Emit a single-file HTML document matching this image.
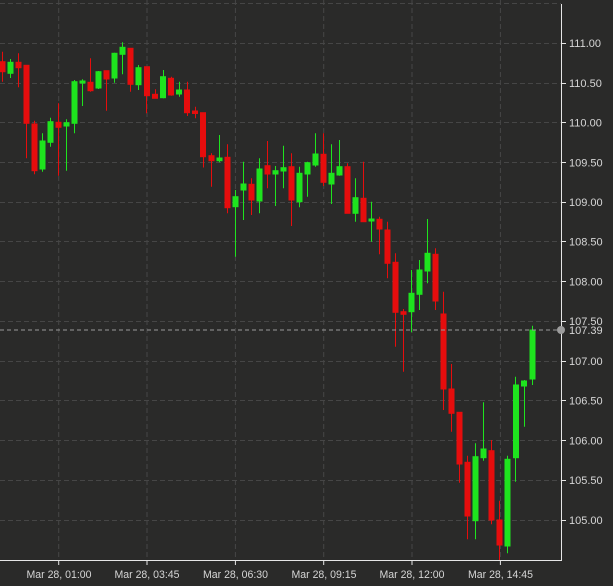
<!DOCTYPE html>
<html><head><meta charset="utf-8"><style>
html,body{margin:0;padding:0;background:#2a2a29;}
svg{display:block;}
text{font-family:"Liberation Sans",sans-serif;fill:#d6d6d6;font-size:11px;}
.g{fill:#1ee41e;stroke:#1ee41e;}
.r{fill:#e60d0d;stroke:#e60d0d;}
</style></head><body>
<svg width="613" height="586" viewBox="0 0 613 586" xmlns="http://www.w3.org/2000/svg">
<rect x="0" y="0" width="613" height="586" fill="#2a2a29"/>
<g stroke="#464646" stroke-width="1" stroke-dasharray="5,3" fill="none">
<line x1="0" y1="3.5" x2="561" y2="3.5"/>
<line x1="0" y1="43.5" x2="561" y2="43.5"/>
<line x1="0" y1="83.5" x2="561" y2="83.5"/>
<line x1="0" y1="122.5" x2="561" y2="122.5"/>
<line x1="0" y1="162.5" x2="561" y2="162.5"/>
<line x1="0" y1="202.5" x2="561" y2="202.5"/>
<line x1="0" y1="241.5" x2="561" y2="241.5"/>
<line x1="0" y1="281.5" x2="561" y2="281.5"/>
<line x1="0" y1="321.5" x2="561" y2="321.5"/>
<line x1="0" y1="361.5" x2="561" y2="361.5"/>
<line x1="0" y1="400.5" x2="561" y2="400.5"/>
<line x1="0" y1="440.5" x2="561" y2="440.5"/>
<line x1="0" y1="480.5" x2="561" y2="480.5"/>
<line x1="0" y1="520.5" x2="561" y2="520.5"/>
<line x1="58.7" y1="0" x2="58.7" y2="560"/>
<line x1="147" y1="0" x2="147" y2="560"/>
<line x1="235.4" y1="0" x2="235.4" y2="560"/>
<line x1="323.7" y1="0" x2="323.7" y2="560"/>
<line x1="412" y1="0" x2="412" y2="560"/>
<line x1="500.4" y1="0" x2="500.4" y2="560"/>
</g>
<g stroke-width="1">
<!-- candles: wick line + body rect -->
<line class="r" x1="2.5" y1="51.7" x2="2.5" y2="81.7"/><rect class="r" stroke="none" x="0" y="61.7" width="5" height="10"/>
<line class="g" x1="10.5" y1="59" x2="10.5" y2="78"/><rect class="g" stroke="none" x="8" y="62.3" width="5" height="11"/>
<line class="r" x1="18.5" y1="53.3" x2="18.5" y2="87.3"/><rect class="r" stroke="none" x="16" y="62.3" width="5" height="5.4"/>
<line class="r" x1="26.5" y1="65.3" x2="26.5" y2="158.3"/><rect class="r" stroke="none" x="24" y="65.3" width="5" height="58"/>
<line class="r" x1="34.5" y1="120.7" x2="34.5" y2="174.3"/><rect class="r" stroke="none" x="32" y="124" width="5" height="46.7"/>
<line class="g" x1="42.5" y1="133.3" x2="42.5" y2="171.7"/><rect class="g" stroke="none" x="40" y="141" width="5" height="28"/>
<line class="g" x1="50.5" y1="117.7" x2="50.5" y2="146.7"/><rect class="g" stroke="none" x="48" y="121.7" width="5" height="20.6"/>
<line class="r" x1="58.5" y1="103.3" x2="58.5" y2="175.7"/><rect class="r" stroke="none" x="56" y="122.3" width="5" height="5"/>
<line class="g" x1="66.5" y1="119.3" x2="66.5" y2="170.7"/><rect class="g" stroke="none" x="64" y="122.7" width="5" height="3.3"/>
<line class="g" x1="74.5" y1="80" x2="74.5" y2="133.3"/><rect class="g" stroke="none" x="72" y="81.7" width="5" height="41.6"/>
<line class="g" x1="82.5" y1="79.3" x2="82.5" y2="106"/><rect class="g" stroke="none" x="80" y="81" width="5" height="2"/>
<line class="r" x1="90.5" y1="58.3" x2="90.5" y2="91.7"/><rect class="r" stroke="none" x="88" y="82.3" width="5" height="8.4"/>
<line class="g" x1="98.5" y1="71" x2="98.5" y2="89"/><rect class="g" stroke="none" x="96" y="71.7" width="5" height="16.3"/>
<line class="r" x1="106.5" y1="70.7" x2="106.5" y2="110.7"/><rect class="r" stroke="none" x="104" y="70.7" width="5" height="8.3"/>
<line class="g" x1="114.5" y1="52.7" x2="114.5" y2="82.7"/><rect class="g" stroke="none" x="112" y="53.3" width="5" height="24.7"/>
<line class="g" x1="122.5" y1="42.3" x2="122.5" y2="74.3"/><rect class="g" stroke="none" x="120" y="47.3" width="5" height="7"/>
<line class="r" x1="130.5" y1="48.3" x2="130.5" y2="91.7"/><rect class="r" stroke="none" x="128" y="48.3" width="5" height="36"/>
<line class="g" x1="138.5" y1="65" x2="138.5" y2="90"/><rect class="g" stroke="none" x="136" y="67.7" width="5" height="17"/>
<line class="r" x1="146.5" y1="66.7" x2="146.5" y2="113.3"/><rect class="r" stroke="none" x="144.5" y="66.7" width="5" height="29"/>
<line class="r" x1="155.5" y1="89.3" x2="155.5" y2="98.3"/><rect class="r" stroke="none" x="152.5" y="94.3" width="5" height="4"/>
<line class="g" x1="163.5" y1="70" x2="163.5" y2="98.3"/><rect class="g" stroke="none" x="160.5" y="76.7" width="5" height="21"/>
<line class="r" x1="171.5" y1="76.7" x2="171.5" y2="95.7"/><rect class="r" stroke="none" x="168.5" y="78.3" width="5" height="16.7"/>
<line class="g" x1="179.5" y1="81.7" x2="179.5" y2="96.7"/><rect class="g" stroke="none" x="176.5" y="90" width="5" height="4"/>
<line class="r" x1="187.5" y1="81.7" x2="187.5" y2="116"/><rect class="r" stroke="none" x="184.5" y="90" width="5" height="22.7"/>
<line class="r" x1="195.5" y1="106.7" x2="195.5" y2="118.3"/><rect class="r" stroke="none" x="192.5" y="111" width="5" height="2.5"/>
<line class="r" x1="203.5" y1="112.7" x2="203.5" y2="167.5"/><rect class="r" stroke="none" x="200.5" y="112.7" width="5" height="44"/>
<line class="r" x1="211.5" y1="153.3" x2="211.5" y2="186.7"/><rect class="r" stroke="none" x="209" y="155.7" width="5" height="5"/>
<line class="g" x1="219.5" y1="135" x2="219.5" y2="162.3"/><rect class="g" stroke="none" x="217" y="158" width="5" height="2.7"/>
<line class="r" x1="227.5" y1="144.3" x2="227.5" y2="213.3"/><rect class="r" stroke="none" x="225" y="157.3" width="5" height="50.4"/>
<line class="g" x1="235.5" y1="190" x2="235.5" y2="256.7"/><rect class="g" stroke="none" x="233" y="196.7" width="5" height="10"/>
<line class="g" x1="243.5" y1="161.7" x2="243.5" y2="220"/><rect class="g" stroke="none" x="241" y="184" width="5" height="6"/>
<line class="r" x1="251.5" y1="178.3" x2="251.5" y2="215"/><rect class="r" stroke="none" x="249" y="184.3" width="5" height="15.7"/>
<line class="g" x1="259.5" y1="158.3" x2="259.5" y2="213.3"/><rect class="g" stroke="none" x="257" y="169" width="5" height="32"/>
<line class="r" x1="267.5" y1="141" x2="267.5" y2="188.3"/><rect class="r" stroke="none" x="265" y="165.7" width="5" height="8.3"/>
<line class="g" x1="275.5" y1="166" x2="275.5" y2="206"/><rect class="g" stroke="none" x="273" y="170.7" width="5" height="3.3"/>
<line class="g" x1="283.5" y1="145.7" x2="283.5" y2="188.3"/><rect class="g" stroke="none" x="281" y="167.7" width="5" height="3.3"/>
<line class="r" x1="291.5" y1="153.3" x2="291.5" y2="226"/><rect class="r" stroke="none" x="289" y="166.7" width="5" height="33.3"/>
<line class="g" x1="299.5" y1="166.7" x2="299.5" y2="207.3"/><rect class="g" stroke="none" x="297" y="173.3" width="5" height="28.4"/>
<line class="g" x1="307.5" y1="161.7" x2="307.5" y2="196.7"/><rect class="g" stroke="none" x="305" y="162.7" width="5" height="11.3"/>
<line class="g" x1="315.5" y1="133.3" x2="315.5" y2="166.7"/><rect class="g" stroke="none" x="313" y="154" width="5" height="11"/>
<line class="r" x1="323.5" y1="133.3" x2="323.5" y2="186"/><rect class="r" stroke="none" x="321" y="154.3" width="5" height="28"/>
<line class="g" x1="331.5" y1="144.3" x2="331.5" y2="204"/><rect class="g" stroke="none" x="329" y="173.3" width="5" height="10.7"/>
<line class="g" x1="339.5" y1="140" x2="339.5" y2="175.7"/><rect class="g" stroke="none" x="337" y="166.7" width="5" height="8.3"/>
<line class="r" x1="347.5" y1="163.3" x2="347.5" y2="213.3"/><rect class="r" stroke="none" x="345" y="166.7" width="5" height="46.6"/>
<line class="g" x1="355.5" y1="178.3" x2="355.5" y2="221.7"/><rect class="g" stroke="none" x="353" y="197.7" width="5" height="15.6"/>
<line class="r" x1="363.5" y1="161.7" x2="363.5" y2="221.7"/><rect class="r" stroke="none" x="361" y="198.3" width="5" height="23.4"/>
<line class="g" x1="371.5" y1="201.7" x2="371.5" y2="241.7"/><rect class="g" stroke="none" x="369" y="219" width="5" height="2"/>
<line class="r" x1="379.5" y1="216.7" x2="379.5" y2="254.3"/><rect class="r" stroke="none" x="377" y="219.3" width="5" height="9.7"/>
<line class="r" x1="387.5" y1="221.7" x2="387.5" y2="278.3"/><rect class="r" stroke="none" x="385" y="230" width="5" height="33.3"/>
<line class="r" x1="395.5" y1="253.3" x2="395.5" y2="346.7"/><rect class="r" stroke="none" x="393" y="262.3" width="5" height="50"/>
<line class="r" x1="403.5" y1="309" x2="403.5" y2="371.7"/><rect class="r" stroke="none" x="401" y="311.7" width="5" height="2.6"/>
<line class="g" x1="411.5" y1="270" x2="411.5" y2="332.3"/><rect class="g" stroke="none" x="409" y="293.3" width="5" height="18.4"/>
<line class="g" x1="419.5" y1="260" x2="419.5" y2="310"/><rect class="g" stroke="none" x="417" y="270" width="5" height="24.3"/>
<line class="g" x1="427.5" y1="219" x2="427.5" y2="283.3"/><rect class="g" stroke="none" x="425" y="253.3" width="5" height="17.7"/>
<line class="r" x1="435.5" y1="248.3" x2="435.5" y2="310"/><rect class="r" stroke="none" x="433" y="254.3" width="5" height="46.7"/>
<line class="r" x1="443.5" y1="291.7" x2="443.5" y2="410"/><rect class="r" stroke="none" x="441" y="314" width="5" height="75"/>
<line class="r" x1="451.5" y1="364" x2="451.5" y2="431.7"/><rect class="r" stroke="none" x="449" y="389" width="5" height="24.3"/>
<line class="r" x1="459.5" y1="412.3" x2="459.5" y2="482.7"/><rect class="r" stroke="none" x="457" y="412.3" width="5" height="51.7"/>
<line class="r" x1="467.5" y1="455.7" x2="467.5" y2="539.3"/><rect class="r" stroke="none" x="465" y="462.3" width="5" height="53.7"/>
<line class="g" x1="475.5" y1="443.3" x2="475.5" y2="539.3"/><rect class="g" stroke="none" x="473" y="456.7" width="5" height="64"/>
<line class="g" x1="483.5" y1="402.3" x2="483.5" y2="460.7"/><rect class="g" stroke="none" x="481" y="449" width="5" height="8.7"/>
<line class="r" x1="491.5" y1="440" x2="491.5" y2="524.3"/><rect class="r" stroke="none" x="489" y="450.7" width="5" height="69.3"/>
<line class="r" x1="499.5" y1="500.7" x2="499.5" y2="560"/><rect class="r" stroke="none" x="497" y="520" width="5" height="25"/>
<line class="g" x1="507.5" y1="455.7" x2="507.5" y2="553.3"/><rect class="g" stroke="none" x="505" y="459.3" width="5" height="86.7"/>
<line class="g" x1="515.5" y1="376.7" x2="515.5" y2="481.7"/><rect class="g" stroke="none" x="513.5" y="385" width="5" height="72.7"/>
<line class="g" x1="524.5" y1="380" x2="524.5" y2="426.7"/><rect class="g" stroke="none" x="521.5" y="381" width="5" height="5"/>
<line class="g" x1="532.5" y1="325.7" x2="532.5" y2="385"/><rect class="g" stroke="none" x="530" y="330" width="5" height="49"/>
</g>
<line x1="0" y1="330" x2="561" y2="330" stroke="#9a9a9a" stroke-width="1" stroke-dasharray="4,3"/>
<g stroke="#e6e6e6" stroke-width="1">
<line x1="561.5" y1="4" x2="561.5" y2="560"/>
<line x1="0" y1="560.5" x2="562" y2="560.5"/>
<line x1="561" y1="43.5" x2="566" y2="43.5"/>
<line x1="561" y1="83.5" x2="566" y2="83.5"/>
<line x1="561" y1="122.5" x2="566" y2="122.5"/>
<line x1="561" y1="162.5" x2="566" y2="162.5"/>
<line x1="561" y1="202.5" x2="566" y2="202.5"/>
<line x1="561" y1="241.5" x2="566" y2="241.5"/>
<line x1="561" y1="281.5" x2="566" y2="281.5"/>
<line x1="561" y1="321.5" x2="566" y2="321.5"/>
<line x1="561" y1="361.5" x2="566" y2="361.5"/>
<line x1="561" y1="400.5" x2="566" y2="400.5"/>
<line x1="561" y1="440.5" x2="566" y2="440.5"/>
<line x1="561" y1="480.5" x2="566" y2="480.5"/>
<line x1="561" y1="520.5" x2="566" y2="520.5"/>
<line x1="58.7" y1="560" x2="58.7" y2="565"/>
<line x1="147" y1="560" x2="147" y2="565"/>
<line x1="235.4" y1="560" x2="235.4" y2="565"/>
<line x1="323.7" y1="560" x2="323.7" y2="565"/>
<line x1="412" y1="560" x2="412" y2="565"/>
<line x1="500.4" y1="560" x2="500.4" y2="565"/>
</g>
<circle cx="561" cy="330" r="4" fill="#9c9c9c"/>
<g>
<text x="569" y="47">111.00</text>
<text x="569" y="87">110.50</text>
<text x="569" y="126.5">110.00</text>
<text x="569" y="166.5">109.50</text>
<text x="569" y="206">109.00</text>
<text x="569" y="245.5">108.50</text>
<text x="569" y="285.5">108.00</text>
<text x="569" y="325">107.50</text>
<text x="569" y="334" fill="#eeeeee">107.39</text>
<text x="569" y="365">107.00</text>
<text x="569" y="404.5">106.50</text>
<text x="569" y="444.5">106.00</text>
<text x="569" y="484">105.50</text>
<text x="569" y="524">105.00</text>
</g>
<g text-anchor="middle">
<text x="59" y="578" textLength="65" lengthAdjust="spacingAndGlyphs">Mar 28, 01:00</text>
<text x="147" y="578" textLength="65" lengthAdjust="spacingAndGlyphs">Mar 28, 03:45</text>
<text x="235.5" y="578" textLength="65" lengthAdjust="spacingAndGlyphs">Mar 28, 06:30</text>
<text x="324" y="578" textLength="65" lengthAdjust="spacingAndGlyphs">Mar 28, 09:15</text>
<text x="412" y="578" textLength="65" lengthAdjust="spacingAndGlyphs">Mar 28, 12:00</text>
<text x="500.5" y="578" textLength="65" lengthAdjust="spacingAndGlyphs">Mar 28, 14:45</text>
</g>
</svg>
</body></html>
